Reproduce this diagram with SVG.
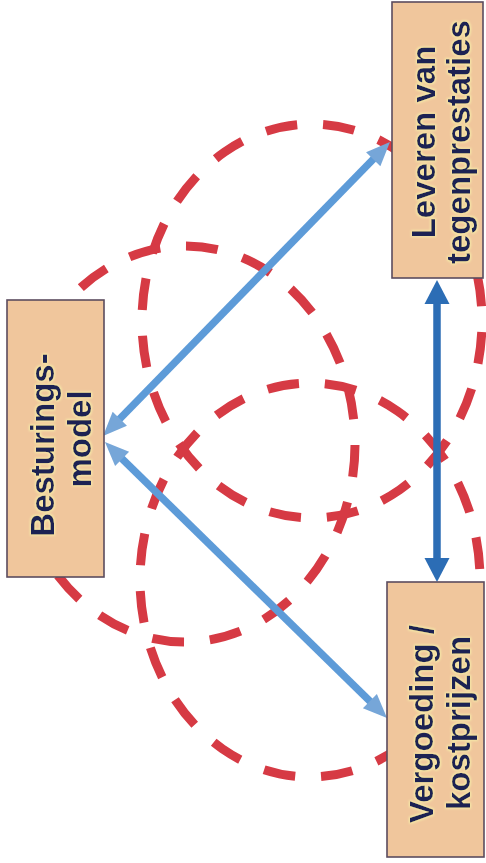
<svg xmlns="http://www.w3.org/2000/svg" width="486" height="863" viewBox="0 0 486 863">
<style>
.bg{fill:#ffffff}
.ring{fill:none;stroke:#d63a44;stroke-width:9;stroke-dasharray:32 26;stroke-dashoffset:-1}
.light{stroke:#5d9bd8;stroke-width:7.5;fill:none;marker-start:url(#ahL);marker-end:url(#ahL)}
.dark{stroke:#2c6db5;stroke-width:7.5;fill:none;marker-start:url(#ahD);marker-end:url(#ahD)}
.box{fill:#f0c69c;stroke:#5b4b5e;stroke-width:1.6}
.lbl{font-family:"Liberation Sans",Arial,sans-serif;font-weight:bold;font-size:33px;fill:#1c2452;text-anchor:middle;filter:url(#glow)}
</style>
<defs>
<marker id="ahL" markerUnits="userSpaceOnUse" viewBox="0 -11 25 22" markerWidth="25" markerHeight="22" refX="1" refY="0" orient="auto-start-reverse" overflow="visible"><path d="M0,-10 L24,0 L0,10 z" fill="#76a6d8"/></marker>
<marker id="ahD" markerUnits="userSpaceOnUse" viewBox="0 -13 25 26" markerWidth="25" markerHeight="26" refX="1" refY="0" orient="auto-start-reverse" overflow="visible"><path d="M0,-12.5 L24,0 L0,12.5 z" fill="#2c6db5"/></marker>
<filter id="glow" x="-10%" y="-30%" width="120%" height="160%">
<feMorphology in="SourceAlpha" operator="dilate" radius="1.3" result="d"/>
<feGaussianBlur in="d" stdDeviation="1.1" result="b"/>
<feFlood flood-color="#f6eba8"/>
<feComposite in2="b" operator="in" result="g"/>
<feMerge><feMergeNode in="g"/><feMergeNode in="SourceGraphic"/></feMerge>
</filter>
</defs>
<rect class="bg" x="0" y="0" width="486" height="863"/>
<g id="rings">
<path class="ring" pathLength="1160" d="M457.7,219.5 A170,197 0 0 1 166.3,422.5 A170,197 0 0 1 457.7,219.5"/>
<path class="ring" pathLength="1160" d="M455.7,681.5 A170,197 0 0 0 164.3,478.5 A170,197 0 0 0 455.7,681.5"/>
<path class="ring" pathLength="1160" d="M15,444 A170,198 0 0 1 355,444 A170,198 0 0 1 15,444"/>
</g>
<g id="connectors">
<line class="light" x1="119.1" y1="419.5" x2="373.9" y2="158.5"/>
<line class="light" x1="121.4" y1="458.1" x2="370.6" y2="701.9"/>
<line class="dark" x1="437" y1="303" x2="437" y2="559"/>
</g>
<g id="leveren">
<rect class="box" x="392" y="2" width="91" height="276"/>
<text class="lbl" transform="translate(435,142) rotate(-90)">Leveren van</text>
<text class="lbl" transform="translate(470,142) rotate(-90)">tegenprestaties</text>
</g>
<g id="besturing">
<rect class="box" x="7" y="300" width="97" height="277"/>
<text class="lbl" transform="translate(54,445) rotate(-90)">Besturings-</text>
<text class="lbl" transform="translate(91,439) rotate(-90)">model</text>
</g>
<g id="vergoeding">
<rect class="box" x="387" y="582" width="97" height="275"/>
<text class="lbl" transform="translate(433,724) rotate(-90)">Vergoeding /</text>
<text class="lbl" transform="translate(470,723) rotate(-90)">kostprijzen</text>
</g>
</svg>
